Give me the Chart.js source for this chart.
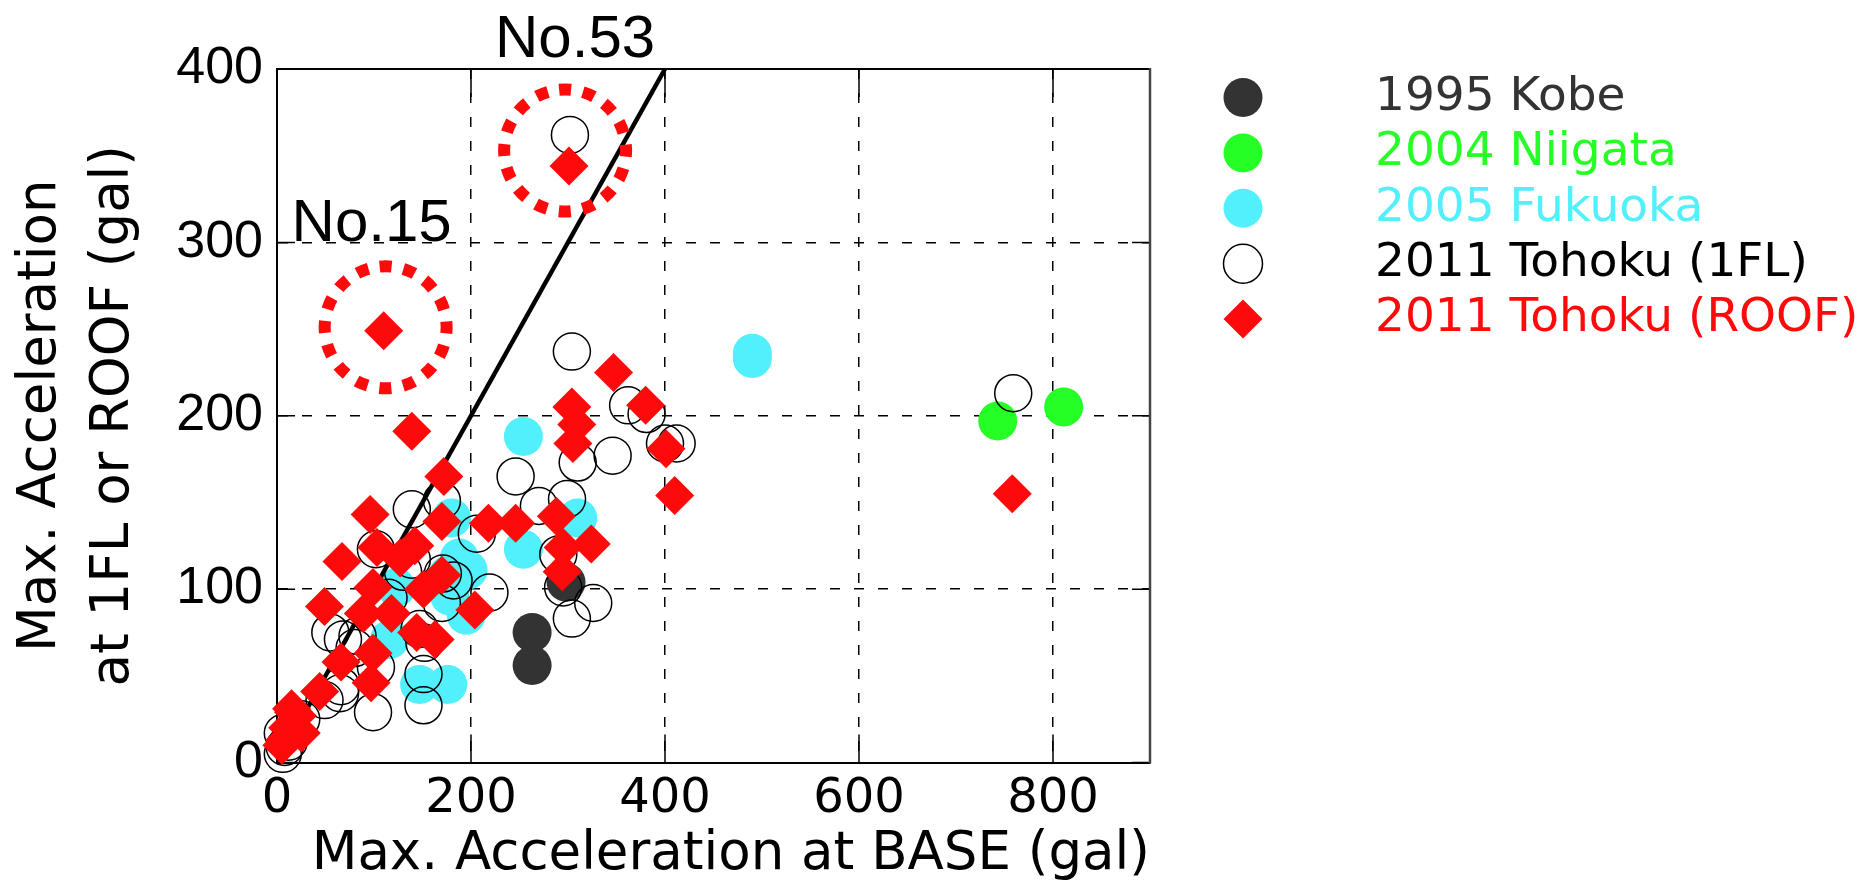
<!DOCTYPE html>
<html>
<head>
<meta charset="utf-8">
<title>Max. Acceleration: BASE vs 1FL / ROOF</title>
<script src="https://cdn.jsdelivr.net/npm/chart.js@4.4.1/dist/chart.umd.min.js"></script>
<style>
  html, body { margin: 0; padding: 0; background: #ffffff; }
  canvas { display: block; }
</style>
</head>
<body>
<canvas id="chart" width="1868" height="888"></canvas>
<script>
// ---- data (gal) ----
const seriesNames = ['1995 Kobe', '2004 Niigata', '2005 Fukuoka', '2011 Tohoku (1FL)', '2011 Tohoku (ROOF)'];

const kobeBase = [263, 263, 298];
const kobeTop  = [56, 75, 104];

const niigataBase = [743, 811];
const niigataTop  = [197, 205];

const fukuokaBase = [490, 490, 254, 180, 310, 254, 188, 197, 176, 195, 178, 116, 123, 147, 176];
const fukuokaTop  = [233, 236, 188, 141, 141, 123, 118, 111, 108, 85, 96, 71, 101, 45, 45];

const tohoku1flBase = [302, 304, 759, 362, 381, 400, 412, 346, 310, 246, 299, 270, 139, 170, 206,
                       290, 102, 171, 139, 219, 295, 326, 304, 170, 68, 83, 147, 102, 151, 151,
                       99, 65, 49, 66, 25, 6, 8, 6, 12, 55, 80, 182, 152, 115, 130];
const tohoku1flTop  = [362, 237, 213, 206, 201, 184, 184, 177, 173, 165, 152, 148, 146, 151, 132,
                       120, 123, 109, 117, 98, 101, 92, 83, 92, 71, 73, 77, 55, 51, 33,
                       29, 40, 36, 44, 25, 17, 9, 5, 12, 75, 66, 105, 69, 95, 110];

const tohokuRoofBase = [110, 301, 347, 304, 380, 309, 305, 401, 139, 410, 758, 172, 96, 170, 218,
                        246, 288, 324, 295, 294, 67, 103, 142, 127, 170, 151, 204, 49, 99, 89,
                        118, 144, 163, 66, 99, 97, 44, 17, 11, 15, 21, 8, 25, 5];
const tohokuRoofTop  = [249, 344, 225, 205, 206, 195, 184, 181, 191, 154, 155, 165, 143, 139, 138,
                        138, 142, 126, 124, 110, 116, 124, 125, 118, 108, 100, 88, 90, 101, 86,
                        86, 75, 71, 58, 63, 46, 41, 29, 20, 31, 27, 13, 17, 10];

// y = x reference line
const refLineX = [0, 400];
const refLineY = [0, 400];

// circled buildings
const highlightNames = ['No.15', 'No.53'];
const highlightBase  = [112, 297];
const highlightTop   = [251, 353];

const xTickValues = [0, 200, 400, 600, 800];
const yTickValues = [0, 100, 200, 300, 400];

// ---- styling ----
const handFont = '"DejaVu Sans", sans-serif';
const plainFont = '"Liberation Sans", Arial, sans-serif';
const colors = ['#333333', '#26ff26', '#52effc', '#000000', '#ff0a0a'];

const pairs = (xs, ys) => xs.map((x, i) => ({ x: x, y: ys[i] }));

// Frame (top/right edges) and inward tick marks, drawn under the markers
const framePlugin = {
  id: 'frameTicks',
  beforeDatasetsDraw(chart, args, opts) {
    const { ctx, chartArea: a, scales } = chart;
    ctx.save();
    ctx.strokeStyle = '#000';
    ctx.lineWidth = opts.tickWidth;
    ctx.beginPath();
    xTickValues.forEach(v => {
      const px = scales.x.getPixelForValue(v);
      ctx.moveTo(px, a.bottom); ctx.lineTo(px, a.bottom - opts.xTickLength);
      ctx.moveTo(px, a.top);    ctx.lineTo(px, a.top + opts.xTickLength);
    });
    yTickValues.forEach(v => {
      const py = scales.y.getPixelForValue(v);
      ctx.moveTo(a.left, py);  ctx.lineTo(a.left + opts.yTickLength, py);
      ctx.moveTo(a.right, py); ctx.lineTo(a.right - opts.yTickLength, py);
    });
    ctx.stroke();
    ctx.lineWidth = 2;
    ctx.strokeStyle = '#000';
    ctx.beginPath();
    ctx.moveTo(a.left, a.top); ctx.lineTo(a.right, a.top);
    ctx.stroke();
    ctx.strokeStyle = '#444';
    ctx.lineWidth = 2.5;
    ctx.beginPath();
    ctx.moveTo(a.right, a.top - 1); ctx.lineTo(a.right, a.bottom + 1);
    ctx.stroke();
    ctx.restore();
  }
};

// Dotted red rings around selected buildings, with their names
const highlightPlugin = {
  id: 'highlightRings',
  afterDatasetsDraw(chart, args, opts) {
    const { ctx, scales } = chart;
    ctx.save();
    highlightNames.forEach((name, i) => {
      const cx = scales.x.getPixelForValue(highlightBase[i]);
      const cy = scales.y.getPixelForValue(highlightTop[i]);
      const r = opts.radius;
      const period = 2 * Math.PI * r / opts.dashCount;
      ctx.strokeStyle = opts.color;
      ctx.lineWidth = opts.lineWidth;
      ctx.setLineDash([period / 2, period / 2]);
      ctx.beginPath();
      const start = -Math.PI / 2 - (period / 4) / r;
      ctx.arc(cx, cy, r, start, start + 2 * Math.PI);
      ctx.stroke();
      ctx.setLineDash([]);
      const off = opts.labelOffsets[i];
      ctx.fillStyle = '#000';
      ctx.font = opts.font;
      ctx.textAlign = 'center';
      ctx.textBaseline = 'alphabetic';
      ctx.fillText(name, cx + off[0], cy + off[1]);
    });
    ctx.restore();
  }
};

// Legend column at the right: marker, then coloured series name
const sideLegendPlugin = {
  id: 'sideLegend',
  afterDraw(chart, args, opts) {
    const ctx = chart.ctx;
    ctx.save();
    let row = 0;
    chart.data.datasets.forEach(ds => {
      if (!seriesNames.includes(ds.label)) return;
      const y = opts.top + row * opts.rowHeight;
      ctx.fillStyle = ds.backgroundColor;
      ctx.strokeStyle = ds.borderColor;
      ctx.lineWidth = ds.borderWidth;
      Chart.helpers.drawPoint(ctx, {
        pointStyle: ds.pointStyle, radius: opts.markerRadius, rotation: 0, borderWidth: ds.borderWidth
      }, opts.markerX, y);
      ctx.font = opts.font;
      ctx.fillStyle = ds.textColor;
      ctx.textAlign = 'left';
      ctx.textBaseline = 'middle';
      ctx.fillText(ds.label, opts.textX, y);
      row++;
    });
    ctx.restore();
  }
};

const ctx = document.getElementById('chart').getContext('2d');
new Chart(ctx, {
  type: 'scatter',
  data: {
    datasets: [
      {
        label: seriesNames[0], data: pairs(kobeBase, kobeTop),
        pointStyle: 'circle', pointRadius: 19.5, backgroundColor: colors[0],
        borderColor: colors[0], borderWidth: 0, textColor: colors[0], order: 5, clip: false
      },
      {
        label: seriesNames[1], data: pairs(niigataBase, niigataTop),
        pointStyle: 'circle', pointRadius: 19.5, backgroundColor: colors[1],
        borderColor: colors[1], borderWidth: 0, textColor: colors[1], order: 4, clip: false
      },
      {
        label: seriesNames[2], data: pairs(fukuokaBase, fukuokaTop),
        pointStyle: 'circle', pointRadius: 19.5, backgroundColor: colors[2],
        borderColor: colors[2], borderWidth: 0, textColor: colors[2], order: 3, clip: false
      },
      {
        label: seriesNames[3], data: pairs(tohoku1flBase, tohoku1flTop),
        pointStyle: 'circle', pointRadius: 18.5, backgroundColor: 'rgba(255,255,255,0)',
        borderColor: colors[3], borderWidth: 1.5, textColor: colors[3], order: 2, clip: false
      },
      {
        label: seriesNames[4], data: pairs(tohokuRoofBase, tohokuRoofTop),
        pointStyle: 'rectRot', pointRadius: 19.5, backgroundColor: colors[4],
        borderColor: colors[4], borderWidth: 0, textColor: colors[4], order: 0, clip: false
      },
      {
        label: 'y = x', data: pairs(refLineX, refLineY), showLine: true,
        pointRadius: 0, borderColor: '#000', borderWidth: 4.5, fill: false, order: 1
      }
    ]
  },
  options: {
    responsive: false,
    animation: false,
    layout: { padding: { top: 69, right: 718, left: 0, bottom: 0 } },
    plugins: {
      legend: { display: false },
      tooltip: { enabled: false },
      frameTicks: { xTickLength: 28, yTickLength: 18, tickWidth: 1.5 },
      highlightRings: {
        radius: 61, lineWidth: 12, dashCount: 16, color: '#ff0a0a',
        font: '60px ' + plainFont, labelOffsets: [[-14, -86], [10, -93]]
      },
      sideLegend: {
        markerX: 1243, textX: 1375, top: 97.5, rowHeight: 55.4,
        markerRadius: 19.5, font: '47px ' + handFont
      }
    },
    scales: {
      x: {
        type: 'linear', min: 0, max: 900,
        afterBuildTicks: s => { s.ticks = xTickValues.map(v => ({ value: v })); },
        afterFit: s => { s.height = 125.5; },
        grid: { color: '#000', lineWidth: 1.5, drawTicks: false },
        border: { display: true, color: '#000', width: 2, dash: [10, 14] },
        ticks: { padding: 8, color: '#000', font: { family: handFont, size: 48 } },
        title: {
          display: true, text: 'Max. Acceleration at BASE (gal)', align: 'end', color: '#000',
          font: { family: handFont, size: 53, lineHeight: 1.2 }, padding: { top: 0, bottom: 1 }
        }
      },
      y: {
        type: 'linear', min: 0, max: 400,
        afterBuildTicks: s => { s.ticks = yTickValues.map(v => ({ value: v })); },
        afterFit: s => { s.width = 277; },
        grid: { color: '#000', lineWidth: 1.5, drawTicks: false },
        border: { display: true, color: '#000', width: 2, dash: [10, 14] },
        ticks: { padding: 14, color: '#000', font: { family: plainFont, size: 52 } },
        title: {
          display: true, text: ['Max. Acceleration', 'at 1FL or ROOF (gal)'], color: '#000',
          font: { family: handFont, size: 53, lineHeight: 1.38 }, padding: { top: 5, bottom: 0 }
        }
      }
    }
  },
  plugins: [framePlugin, highlightPlugin, sideLegendPlugin]
});
</script>
</body>
</html>
